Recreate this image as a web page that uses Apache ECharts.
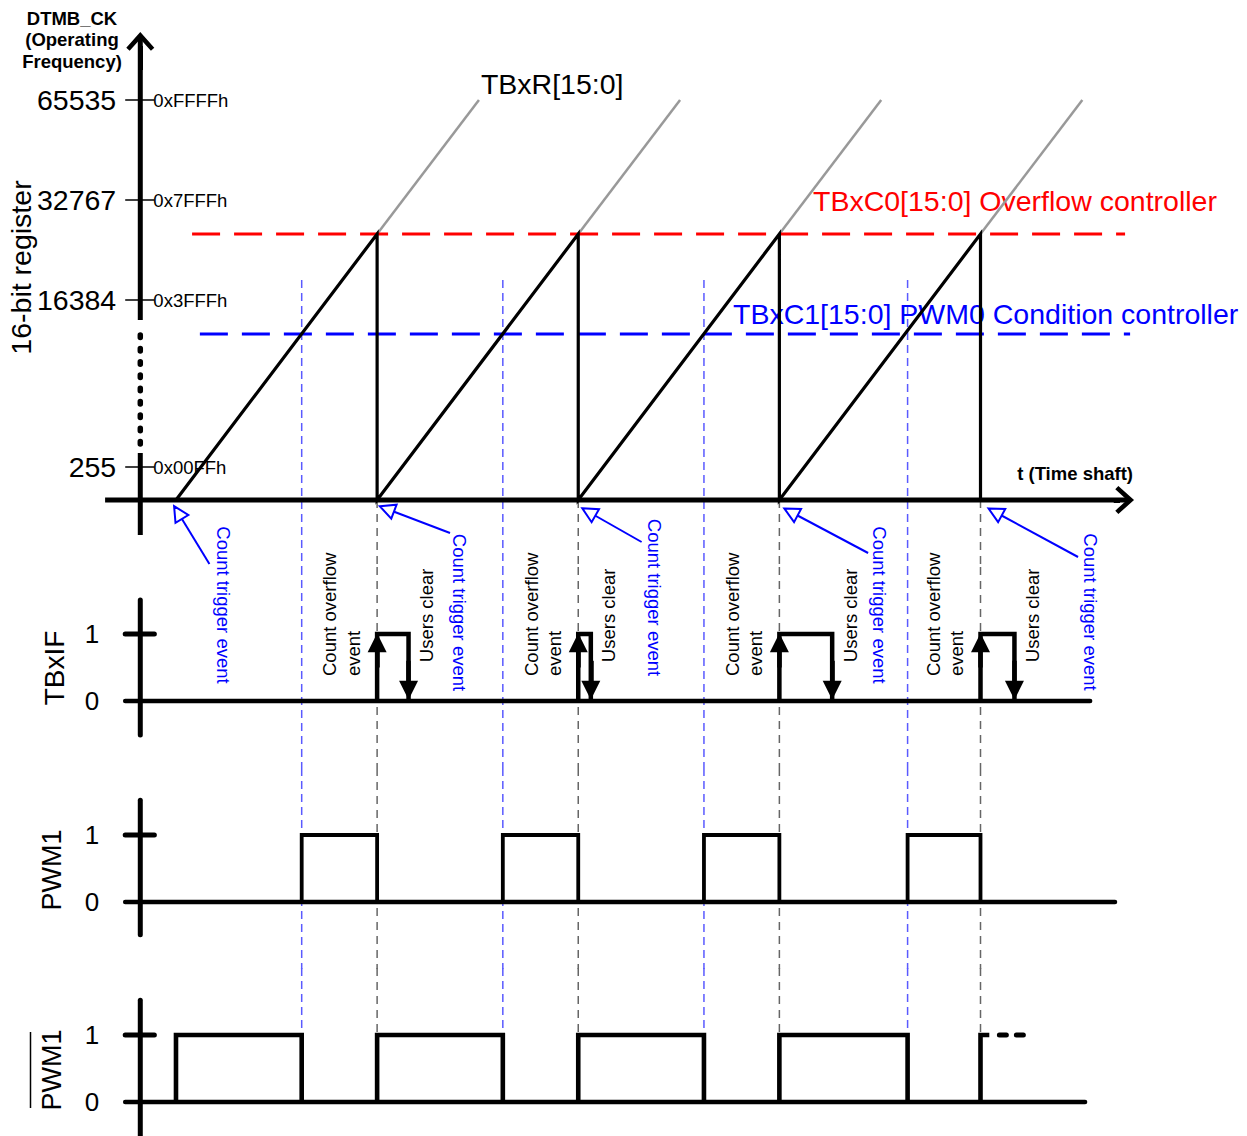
<!DOCTYPE html>
<html>
<head>
<meta charset="utf-8">
<title>TBx timer timing diagram</title>
<script src="https://cdn.jsdelivr.net/npm/echarts@6.0.0/dist/echarts.min.js"></script>
<style>
html,body{margin:0;padding:0;background:#fff;}
#chart{width:1247px;height:1136px;}
</style>
</head>
<body>
<div id="chart"></div>
<script>
// ---------------- data (time in clock units; register on the broken axis) ----------------
const triggerT   = [0, 8, 16, 24, 32];          // count trigger events: TBxR restarts from 0
const overflowT  = [8, 16, 24, 32];             // TBxR reaches TBxC0: count overflow
const compareT   = [5, 13, 21, 29.1];           // TBxR reaches TBxC1: PWM condition
const userClearT = [9.25, 16.5, 26.1, 33.35];   // software clears TBxIF
const tbrFreeRunEndT = [12.05, 20.05, 28.05, 36.05]; // TBxR would keep counting to 0xFFFF
const regTickValues = [255, 16384, 32767, 65535];
const regTickHex    = ['0x00FFh', '0x3FFFh', '0x7FFFh', '0xFFFFh'];
const regTickLevel  = [0.33, 2, 3, 4];          // position of each tick on the broken axis
const C0_LEVEL  = 2.66;   // TBxC0 overflow value
const C1_LEVEL  = 1.66;   // TBxC1 PWM condition value
const MAX_LEVEL = 4;      // 0xFFFF
const logicTicks = [0, 1];
const pwmContinueEndT = 33.8;

// ---------------- layout ----------------
const FONT = '"Liberation Sans", Arial, sans-serif';
const X_MIN = -7, X_MAX = 42.6;
const GRIDS = [
  {top: 0,   height: 567, min: -0.67,  max: 5},
  {top: 567, height: 201, min: -1,     max: 2},
  {top: 768, height: 201, min: -1,     max: 2},
  {top: 968, height: 168, min: -0.507, max: 2}
];
const AXIS_T = -1.42, TICK_T0 = -2.02, TICK_T1 = -0.86;
const CHEVRON = 'path://M0,100 M50,0 L100,56 L88,67 L50,25 L12,67 L0,56 Z';
const trigArrowHead = [[0.08, -0.125], [8.39, -0.09], [16.42, -0.12], [24.46, -0.12], [32.58, -0.12]];
const trigArrowTail = [[1.33, -0.64], [10.9, -0.33], [18.52, -0.42], [27.53, -0.53], [35.88, -0.57]];
const trigLabelPos  = [[1.89, 1.433], [11.28, 1.321], [19.03, 1.545], [28.0, 1.433], [36.36, 1.328]];

const chart = echarts.init(document.getElementById('chart'), null, {renderer: 'svg', width: 1247, height: 1136});

const S = [];
function L(gi, polys, style, extra) {
  S.push(Object.assign({
    type: 'lines', coordinateSystem: 'cartesian2d', xAxisIndex: gi, yAxisIndex: gi,
    polyline: true, silent: true, animation: false, clip: false, z: 2,
    lineStyle: Object.assign({color: '#000', width: 3, opacity: 1, curveness: 0}, style),
    data: polys.map(c => ({coords: c}))
  }, extra || {}));
}
function A(gi, segs, style, symbol, size, z) {
  L(gi, segs, style, {polyline: false, symbol: ['none', symbol], symbolSize: size, z: z || 3});
}

// guide lines (dashed verticals)
const BLUE_GUIDE = {color: '#5a5aff', width: 1.5, type: [8, 5]};
const GRAY_GUIDE = {color: '#666666', width: 1.5, type: [8, 6]};
const blueSpan = [[2.2, -0.67], [2, -1], [2, -1], [2, 0]];
const graySpan = [[0, -0.67], [2, -1], [2, -1], [2, 0]];
for (let gi = 0; gi < 4; gi++) {
  L(gi, compareT.map(t => [[t, blueSpan[gi][0]], [t, blueSpan[gi][1]]]), BLUE_GUIDE, {z: 1});
  L(gi, overflowT.map(t => [[t, graySpan[gi][0]], [t, graySpan[gi][1]]]), GRAY_GUIDE, {z: 1});
}

// ---- counter panel ----
L(0, overflowT.map((t, i) => [[t, C0_LEVEL], [tbrFreeRunEndT[i], MAX_LEVEL]]), {color: '#999999', width: 2.5});
L(0, [[[0.64, C0_LEVEL], [37.75, C0_LEVEL]]], {color: '#ff0000', width: 3, type: [28, 14]});
L(0, [[[0.95, C1_LEVEL], [37.95, C1_LEVEL]]], {color: '#0000ff', width: 3, type: [28, 14]});
const ramp = [];
overflowT.forEach((t, i) => { ramp.push([triggerT[i], 0], [t, C0_LEVEL], [t, 0]); });
L(0, [ramp], {width: 3.2, join: 'miter'}, {z: 3});
A(0, trigArrowTail.map((p, i) => [p, trigArrowHead[i]]), {color: '#0000ff', width: 2}, 'emptyTriangle', 15, 3);
// axes
L(0, [[[-2.82, 0], [37.93, 0]]], {width: 5}, {z: 4});
A(0, [[[37.3, 0], [37.55, 0]]], {width: 5}, CHEVRON, 28, 4);
L(0, [[[AXIS_T, -0.35], [AXIS_T, 0.47]], [[AXIS_T, 1.8], [AXIS_T, 4.64]]], {width: 5}, {z: 4});
L(0, [[[AXIS_T, 0.56], [AXIS_T, 1.73]]], {width: 5.5, type: [2.5, 10.8], cap: 'round'}, {z: 4});
A(0, [[[AXIS_T, 4.3], [AXIS_T, 4.54]]], {width: 5}, CHEVRON, 28, 4);
L(0, regTickLevel.map(l => [[TICK_T0, l], [TICK_T1, l]]), {width: 1.5}, {z: 4});

// ---- logic panels: axes ----
const LOGIC_AXIS = [
  {gi: 1, top: 1.507, bot: -0.507, xEnd: 36.36},
  {gi: 2, top: 1.52,  bot: -0.49,  xEnd: 37.35},
  {gi: 3, top: 1.52,  bot: -0.6,   xEnd: 36.16}
];
LOGIC_AXIS.forEach(a => {
  L(a.gi, [[[AXIS_T, a.bot], [AXIS_T, a.top]]], {width: 5, cap: 'round'}, {z: 4});
  L(a.gi, [[[TICK_T0, 0], [a.xEnd, 0]]], {width: 4.5, cap: 'round'}, {z: 4});
  L(a.gi, [[[TICK_T0, 1], [TICK_T1, 1]]], {width: 5, cap: 'round'}, {z: 4});
});

// TBxIF
L(1, overflowT.map((t, i) => [[t, 0], [t, 1], [userClearT[i], 1], [userClearT[i], 0]]), {width: 4.5, join: 'miter'}, {z: 3});
A(1, overflowT.map(t => [[t, 0.5], [t, 0.87]]), {width: 4.5}, 'triangle', 19, 3);
A(1, userClearT.map(t => [[t, 0.6], [t, 0.16]]), {width: 4.5}, 'triangle', 19, 3);

// PWM1
L(2, compareT.map((t, i) => [[t, 0], [t, 1], [overflowT[i], 1], [overflowT[i], 0]]), {width: 3.8, join: 'miter'}, {z: 3});

// PWM1 (inverted)
L(3, compareT.map((t, i) => [[triggerT[i], 0], [triggerT[i], 1], [t, 1], [t, 0]]), {width: 4.6, join: 'miter'}, {z: 3});
L(3, [[[triggerT[4], 0], [triggerT[4], 1], [32.35, 1]]], {width: 4.6, join: 'miter'}, {z: 3});
L(3, [[[32.75, 1], [pwmContinueEndT, 1]]], {width: 5, type: [7, 10], cap: 'round'}, {z: 3});

const option = {
  animation: false,
  backgroundColor: '#ffffff',
  grid: GRIDS.map(g => ({left: 0, right: 0, top: g.top, height: g.height, containLabel: false, outerBoundsMode: 'none', show: false})),
  xAxis: GRIDS.map((g, i) => ({type: 'value', gridIndex: i, min: X_MIN, max: X_MAX, show: false, splitLine: {show: false}})),
  yAxis: GRIDS.map((g, i) => ({type: 'value', gridIndex: i, min: g.min, max: g.max, show: false, splitLine: {show: false}})),
  series: S
};
chart.setOption(option);

// ---------------- texts ----------------
const G = [];
function txt(x, y, text, st, rotDeg) {
  G.push({type: 'text', x: x, y: y, rotation: (rotDeg || 0) * Math.PI / 180, silent: true, z: 1,
    style: Object.assign({text: text, fill: '#000', fontFamily: FONT, fontSize: 18.5, align: 'center', verticalAlign: 'middle'}, st)});
}
const px = (gi, t, v) => chart.convertToPixel({gridIndex: gi}, [t, v]);

regTickValues.forEach((v, i) => {
  const a = px(0, TICK_T0, regTickLevel[i]);
  txt(a[0] - 9, a[1], String(v), {fontSize: 28.5, align: 'right'});
  const b = px(0, TICK_T1, regTickLevel[i]);
  txt(b[0] - 1, b[1], regTickHex[i], {fontSize: 18.5, align: 'left'});
});
for (let gi = 1; gi < 4; gi++) {
  logicTicks.forEach(v => {
    const a = px(gi, TICK_T0, v);
    txt(a[0] - 26, a[1], String(v), {fontSize: 26, align: 'right'});
  });
}
trigLabelPos.forEach(p => {
  const a = px(1, p[0], p[1]);
  txt(a[0], a[1], 'Count trigger event', {fill: '#0000ff', fontSize: 18.5}, -90);
});
overflowT.forEach(t => {
  const a = px(1, t - 1.41, 0.373);
  txt(a[0], a[1], 'Count overflow\nevent', {fontSize: 18.5, align: 'left', lineHeight: 23.5}, 90);
});
userClearT.forEach(t => {
  const a = px(1, t + 0.72, 0.58);
  txt(a[0], a[1], 'Users clear', {fontSize: 18.5, align: 'left'}, 90);
});
const tb = px(0, tbrFreeRunEndT[0], MAX_LEVEL);
txt(tb[0] + 2, tb[1] - 16, 'TBxR[15:0]', {fontSize: 28.5, align: 'left'});
const c0 = px(0, 0, C0_LEVEL), c1 = px(0, 0, C1_LEVEL);
txt(813, c0[1] - 33, 'TBxC0[15:0] Overflow controller', {fontSize: 28.5, align: 'left', fill: '#ff0000'});
txt(733, c1[1] - 20, 'TBxC1[15:0] PWM0 Condition controller', {fontSize: 28.5, align: 'left', fill: '#0000ff'});
txt(72, 39.5, 'DTMB_CK\n(Operating\nFrequency)', {fontSize: 18.5, fontWeight: 'bold', lineHeight: 21.5});
txt(1133, 473, 't (Time shaft)', {fontSize: 18.5, fontWeight: 'bold', align: 'right'});
txt(20.5, 267.5, '16-bit register', {fontSize: 28.5}, 90);
txt(54, 668, 'TBxIF', {fontSize: 28}, 90);
txt(52, 870, 'PWM1', {fontSize: 27}, 90);
txt(52, 1070, 'PWM1', {fontSize: 27}, 90);
G.push({type: 'line', silent: true, z: 1, shape: {x1: 30.5, y1: 1032, x2: 30.5, y2: 1108}, style: {stroke: '#000', lineWidth: 1.5}});

chart.setOption({graphic: G});
</script>
</body>
</html>
